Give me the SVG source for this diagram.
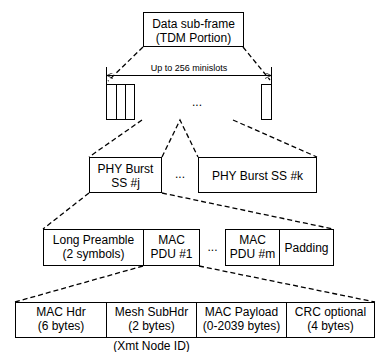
<svg xmlns="http://www.w3.org/2000/svg" width="377" height="352" viewBox="0 0 377 352">
<defs>
<style>
.box{fill:#fff;stroke:#000;stroke-width:1}
.t{font-family:"Liberation Sans",Arial,sans-serif;font-size:12px;fill:#000;text-anchor:middle}
.s{font-size:9px}
.d{fill:none;stroke:#000;stroke-width:1.3;stroke-dasharray:5,3}
.l{fill:none;stroke:#000;stroke-width:1}
</style>
<marker id="ah" viewBox="0 0 8 8" refX="8" refY="4" markerWidth="6" markerHeight="6" orient="auto-start-reverse" markerUnits="userSpaceOnUse">
<path d="M0,0 L8,4 L0,8" fill="none" stroke="#000" stroke-width="1"/>
</marker>
</defs>
<rect width="377" height="352" fill="#fff"/>
<g id="connectors">
<line class="d" x1="143" y1="47" x2="108" y2="81"/>
<line class="d" x1="243" y1="47" x2="270" y2="80"/>
<line class="d" x1="142" y1="120" x2="89" y2="157"/>
<polyline class="d" points="162,157 180,120 198,157"/>
<line class="d" x1="233" y1="120" x2="317" y2="157"/>
<line class="d" x1="89" y1="193" x2="43" y2="229"/>
<line class="d" x1="162" y1="193" x2="333" y2="229"/>
<line class="d" x1="143" y1="266" x2="15" y2="302"/>
<line class="d" x1="199" y1="266" x2="375" y2="302"/>
</g>
<g id="subframe">
<rect class="box" x="143.5" y="12.5" width="100" height="34"/>
<text class="t" x="193.5" y="27.5">Data sub-frame</text>
<text class="t" x="193.5" y="41.5">(TDM Portion)</text>
</g>
<g id="minislots">
<line class="l" x1="106.5" y1="67" x2="106.5" y2="84"/>
<line class="l" x1="271.5" y1="67" x2="271.5" y2="84"/>
<line class="l" x1="107" y1="75.5" x2="271" y2="75.5" marker-start="url(#ah)" marker-end="url(#ah)"/>
<text class="t s" x="189" y="71">Up to 256 minislots</text>
<rect class="box" x="106.5" y="84.5" width="28" height="35"/>
<line class="l" x1="116.5" y1="84.5" x2="116.5" y2="119.5"/>
<line class="l" x1="125.5" y1="84.5" x2="125.5" y2="119.5"/>
<rect class="box" x="261.5" y="84.5" width="10" height="35"/>
<text class="t" x="197" y="106">...</text>
</g>
<g id="phy-burst-j">
<rect class="box" x="89.5" y="157.5" width="72" height="35"/>
<text class="t" x="125.5" y="172.5">PHY Burst</text>
<text class="t" x="125.5" y="186.5">SS #j</text>
</g>
<text class="t" x="180" y="178">...</text>
<g id="phy-burst-k">
<rect class="box" x="198.5" y="157.5" width="118" height="35"/>
<text class="t" x="257.5" y="179.5">PHY Burst SS #k</text>
</g>
<g id="long-preamble">
<rect class="box" x="43.5" y="229.5" width="100" height="36"/>
<text class="t" x="93.5" y="243.5">Long Preamble</text>
<text class="t" x="93.5" y="257.5">(2 symbols)</text>
</g>
<g id="mac-pdu-1">
<rect class="box" x="143.5" y="229.5" width="56" height="36"/>
<text class="t" x="171.5" y="243.5">MAC</text>
<text class="t" x="171.5" y="257.5">PDU #1</text>
</g>
<text class="t" x="212.5" y="251">...</text>
<g id="mac-pdu-m">
<rect class="box" x="225.5" y="229.5" width="54" height="36"/>
<text class="t" x="252.5" y="243.5">MAC</text>
<text class="t" x="252.5" y="257.5">PDU #m</text>
</g>
<g id="padding">
<rect class="box" x="279.5" y="229.5" width="54" height="36"/>
<text class="t" x="306.5" y="251.5">Padding</text>
</g>
<g id="mac-hdr">
<rect class="box" x="15.5" y="302.5" width="91" height="35"/>
<text class="t" x="61" y="316">MAC Hdr</text>
<text class="t" x="61" y="330">(6 bytes)</text>
</g>
<g id="mesh-subhdr">
<rect class="box" x="106.5" y="302.5" width="90" height="35"/>
<text class="t" x="151.5" y="316">Mesh SubHdr</text>
<text class="t" x="151.5" y="330">(2 bytes)</text>
</g>
<g id="mac-payload">
<rect class="box" x="196.5" y="302.5" width="90" height="35"/>
<text class="t" x="241.5" y="316">MAC Payload</text>
<text class="t" x="241.5" y="330">(0-2039 bytes)</text>
</g>
<g id="crc">
<rect class="box" x="286.5" y="302.5" width="88" height="35"/>
<text class="t" x="330.5" y="316">CRC optional</text>
<text class="t" x="330.5" y="330">(4 bytes)</text>
</g>
<text class="t" x="151.5" y="350">(Xmt Node ID)</text>
</svg>
